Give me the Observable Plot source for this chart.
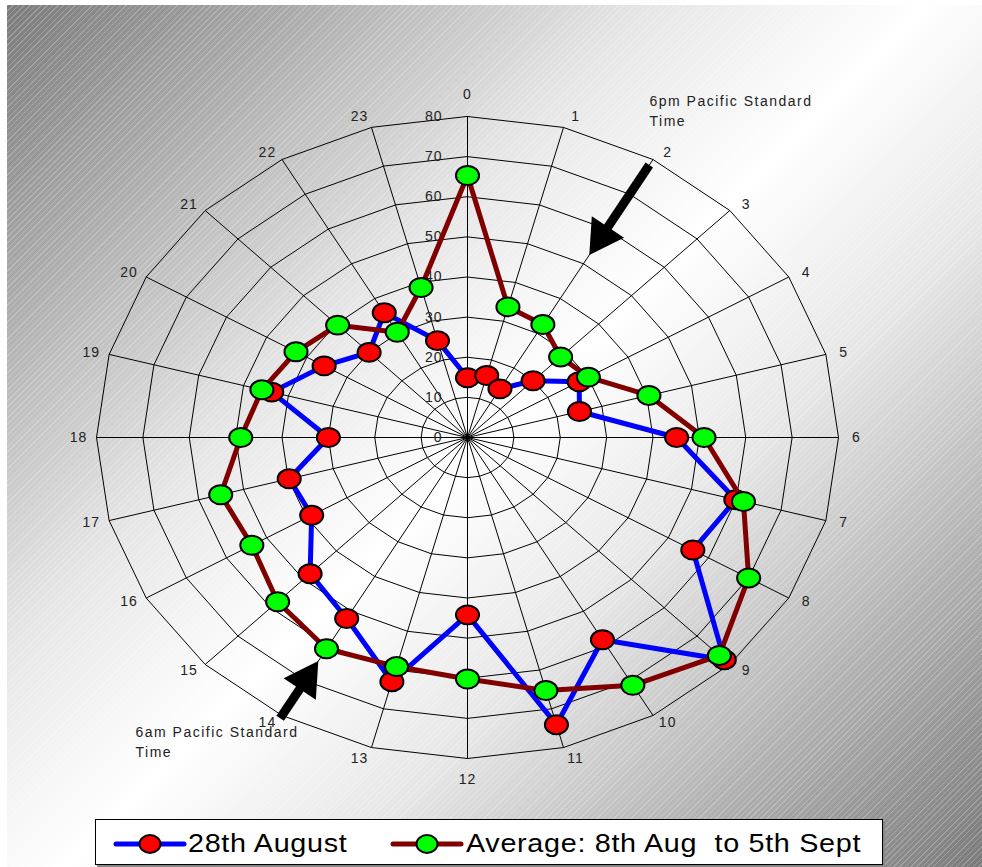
<!DOCTYPE html>
<html>
<head>
<meta charset="utf-8">
<script src="https://cdn.jsdelivr.net/npm/d3@7"></script>
<script src="https://cdn.jsdelivr.net/npm/@observablehq/plot@0.6"></script>
<style>
  html, body { margin: 0; padding: 0; background: #fff; }
  body { width: 982px; height: 867px; position: relative; overflow: hidden;
         font-family: "Liberation Sans", Arial, sans-serif; }
  #frame { position: absolute; left: 7px; top: 5px; width: 975px; height: 862px;
    background:
      repeating-linear-gradient(135deg, rgba(255,255,255,0.22) 0px, rgba(255,255,255,0.22) 1px, rgba(255,255,255,0) 1px, rgba(255,255,255,0) 4px),
      linear-gradient(135deg, #7a7a7a 0%, #e6e6e6 35%, #ffffff 50%, #e6e6e6 65%, #7a7a7a 100%);
  }
  #chart { position: absolute; left: 0; top: 0; }
  #legend { position: absolute; left: 88px; top: 814px; width: 786px; height: 44px;
            background: #fff; border: 1px solid #000; box-shadow: 2px 2px 0 #888; }
  #legend .key { position: absolute; top: 13px; }
  #legend .lbl { position: absolute; top: 8px; font-size: 25px; line-height: 30px; color: #000;
                 letter-spacing: 0.6px; white-space: pre; transform: scaleX(1.15); transform-origin: left center; }
</style>
</head>
<body>
<div id="frame">
  <div id="chart"></div>
  <div id="legend"></div>
</div>
<script>
// ---- data ----
const hourLabels = ["0","1","2","3","4","5","6","7","8","9","10","11","12","13","14","15","16","17","18","19","20","21","22","23"];
const aug28   = [14.9, 16.0, 14.0, 20.0, 27.8, 25.0, 45.1, 59.9, 56.1, 78.3, 58.2, 74.1, 44.2, 63.0, 52.1, 48.0, 38.8, 39.8, 30.0, 43.7, 35.7, 30.0, 35.9, 25.0];
const average = [65.3, 33.7, 32.5, 28.4, 30.1, 40.5, 51.0, 61.6, 70.0, 76.8, 71.3, 65.3, 60.2, 59.1, 60.8, 57.9, 53.7, 55.1, 48.9, 45.9, 42.7, 39.6, 30.3, 38.7];
const ringTicks = [0, 10, 20, 30, 40, 50, 60, 70, 80];
const seriesNames = ["28th August", "Average: 8th Aug  to 5th Sept"];
const seriesLine = ["#0000ff", "#800000"];
const seriesDot = ["#ff0000", "#00ff00"];
const notes = ["6pm Pacific Standard\nTime", "6am Pacific Standard\nTime"];
const arrowHours = [2, 14];          // arrows point inward along these spokes
const arrowTail = [78.4, 80.8];
const arrowTip = [52.5, 64.3];

// ---- geometry helpers ----
const maxR = 80;
const xRange = [89, 831], yRange = [753, 111];
const kx = (xRange[1] - xRange[0]) / (2 * maxR), ky = (yRange[0] - yRange[1]) / (2 * maxR);
const ang = h => h * Math.PI / 12;
const px = (v, h) => v * Math.sin(ang(h));
const py = (v, h) => v * Math.cos(ang(h));

const toPoints = vals => vals.map((v, h) => ({h, v, x: px(v, h), y: py(v, h)}));
const ptsA = toPoints(aug28);
const ptsB = toPoints(average);

const rings = ringTicks.filter(t => t > 0).flatMap(t => hourLabels.map((_, h) => ({t, x: px(t, h), y: py(t, h)})));
const spokes = hourLabels.map((lab, h) => ({h, lab}));

// category labels sit just outside the outer ring vertex (pixel gap converted to data units)
const labX = d => {
  const s = Math.sin(ang(d.h));
  const gap = Math.abs(s) < 1e-9 ? 0 : Math.sign(s) * 18 * Math.pow(Math.abs(s), 0.3);
  return px(maxR, d.h) + gap / kx;
};
const labY = d => {
  const c = Math.cos(ang(d.h));
  const gap = c * (8 + 13.5 * Math.pow(Math.abs(c), 40));
  return py(maxR, d.h) + gap / ky;
};

const arrows = arrowHours.map((h, i) => {
  const headPx = 22.5; // centroid-to-tip of head, in pixels
  const unit = Math.hypot(Math.sin(ang(h)) * kx, Math.cos(ang(h)) * ky);
  const c = arrowTip[i] + headPx / unit;
  const shaftEnd = c + 6 / unit;
  const rot = Math.atan2(-Math.sin(ang(h)) * kx, -Math.cos(ang(h)) * ky) * 180 / Math.PI;
  return {h, tail: arrowTail[i], shaftEnd, c, rot};
});

// ellipse marker (chart is stretched horizontally)
const ellipse = {
  draw(ctx, size) {
    const r = Math.sqrt(size / Math.PI), rx = r * 1.12, ry = r * 0.92, k = 0.5523;
    ctx.moveTo(rx, 0);
    ctx.bezierCurveTo(rx, ry * k, rx * k, ry, 0, ry);
    ctx.bezierCurveTo(-rx * k, ry, -rx, ry * k, -rx, 0);
    ctx.bezierCurveTo(-rx, -ry * k, -rx * k, -ry, 0, -ry);
    ctx.bezierCurveTo(rx * k, -ry, rx, -ry * k, rx, 0);
    ctx.closePath();
  }
};

const chart = Plot.plot({
  width: 975,
  height: 812,
  margin: 0,
  style: {background: "transparent", overflow: "visible", fontFamily: "'Liberation Sans', Arial, sans-serif", letterSpacing: "1px"},
  x: {domain: [-maxR, maxR], range: xRange, axis: null},
  y: {domain: [-maxR, maxR], range: yRange, axis: null},
  marks: [
    Plot.line(rings, {x: "x", y: "y", z: "t", curve: "linear-closed", stroke: "#000", strokeWidth: 1}),
    Plot.link(spokes, {x1: () => 0, y1: () => 0, x2: d => px(maxR, d.h), y2: d => py(maxR, d.h), stroke: "#000", strokeWidth: 1}),
    Plot.text(ringTicks, {x: () => 0, y: d => d, text: d => String(d), textAnchor: "end", dx: -25, fontSize: 14, fill: "#222"}),
    Plot.text(spokes, {x: labX, y: labY, text: "lab", fontSize: 14, fill: "#222"}),
    // series 1
    Plot.line(ptsA, {x: "x", y: "y", curve: "linear-closed", stroke: seriesLine[0], strokeWidth: 5, strokeLinejoin: "round"}),
    Plot.dot(ptsA, {x: "x", y: "y", r: 10.3, symbol: ellipse, fill: seriesDot[0], stroke: "#000", strokeWidth: 2}),
    // series 2
    Plot.line(ptsB, {x: "x", y: "y", curve: "linear-closed", stroke: seriesLine[1], strokeWidth: 5, strokeLinejoin: "round"}),
    Plot.dot(ptsB, {x: "x", y: "y", r: 10.3, symbol: ellipse, fill: seriesDot[1], stroke: "#000", strokeWidth: 2}),
    // arrows
    Plot.link(arrows, {x1: d => px(d.tail, d.h), y1: d => py(d.tail, d.h), x2: d => px(d.shaftEnd, d.h), y2: d => py(d.shaftEnd, d.h), stroke: "#000", strokeWidth: 9}),
    Plot.dot(arrows, {x: d => px(d.c, d.h), y: d => py(d.c, d.h), symbol: "triangle2", r: 18.5, rotate: "rot", fill: "#000", stroke: "none"}),
    // notes
    Plot.text([notes[0]], {frameAnchor: "top-left", dx: 642, dy: 87, textAnchor: "start", lineAnchor: "top", lineHeight: 1.4, fontSize: 14, fill: "#222"}),
    Plot.text([notes[1]], {frameAnchor: "top-left", dx: 128, dy: 718, textAnchor: "start", lineAnchor: "top", lineHeight: 1.4, fontSize: 14, fill: "#222"})
  ]
});
document.getElementById("chart").appendChild(chart);
// slightly wider tracking for the two annotations
d3.select(chart).selectAll("text").filter(function() { return /Pacific/.test(this.textContent); })
  .style("letter-spacing", "1.5px");

// ---- legend ----
const legend = document.getElementById("legend");
const keyX = [17, 294], lblX = [92, 370];
seriesNames.forEach((name, i) => {
  const key = document.createElementNS("http://www.w3.org/2000/svg", "svg");
  key.setAttribute("class", "key");
  key.setAttribute("width", 74); key.setAttribute("height", 22);
  key.style.left = keyX[i] + "px";
  key.innerHTML = `<line x1="3" y1="11" x2="71" y2="11" stroke="${seriesLine[i]}" stroke-width="5" stroke-linecap="round"/>` +
    `<ellipse cx="37" cy="11" rx="10.5" ry="9" fill="${seriesDot[i]}" stroke="#000" stroke-width="2"/>`;
  legend.appendChild(key);
  const lbl = document.createElement("div");
  lbl.className = "lbl";
  lbl.style.left = lblX[i] + "px";
  lbl.textContent = name;
  legend.appendChild(lbl);
});
</script>
</body>
</html>
